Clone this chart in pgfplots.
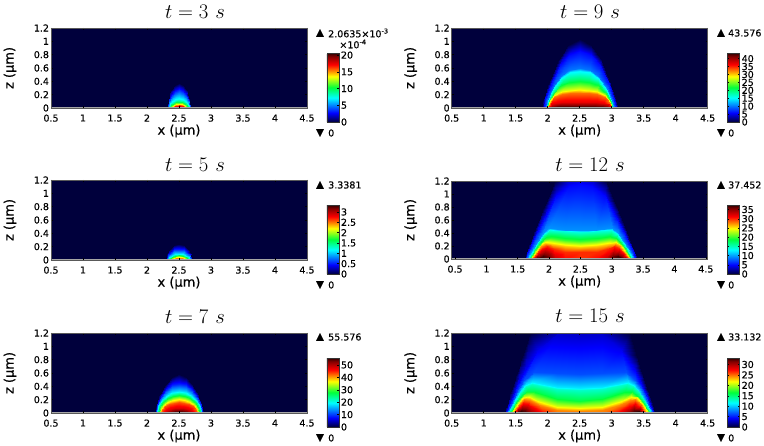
\documentclass[border=0pt]{standalone}
\usepackage[no-math]{fontspec}
\setmainfont{DejaVu Sans}[FakeBold=0.35]
\usepackage{pgfplots}
\pgfplotsset{compat=1.18}
\definecolor{bgnavy}{RGB}{0,0,60}
\pgfplotsset{
  colormap={comsol}{rgb255(0pt)=(0,0,60) rgb255(13pt)=(0,0,255) rgb255(35pt)=(0,255,255) rgb255(50pt)=(0,255,60) rgb255(66pt)=(255,255,0) rgb255(83pt)=(255,0,0) rgb255(95pt)=(130,0,0) rgb255(100pt)=(45,0,0)},
  panel/.style={
    scale only axis, width=256pt, height=80pt, anchor=north west,
    xmin=0.5, xmax=4.5, ymin=0, ymax=1.2,
    xtick={0.5,1,...,4.5}, ytick={0,0.2,...,1.2},
    xticklabels={0.5,1,1.5,2,2.5,3,3.5,4,4.5},
    yticklabels={0,0.2,0.4,0.6,0.8,1,1.2},
    axis on top, tick align=inside, major tick length=2pt,
    tick style={black, line width=0.5pt}, axis line style={draw=black!65, line width=0.8pt},
    tick label style={font=\fontsize{9.5}{10}\selectfont},
    xticklabel style={yshift=-3pt}, yticklabel style={xshift=1.5pt},
    xlabel={x (µm)}, ylabel={z (µm)},
    every axis x label/.style={at={(axis description cs:0.5,0)},anchor=center,yshift=-23pt,font=\fontsize{13}{14}\selectfont},
    every axis y label/.style={at={(axis description cs:0,0.5)},anchor=center,xshift=-41pt,rotate=90,font=\fontsize{13}{14}\selectfont},
    axis background/.style={fill=bgnavy},
    colormap name=comsol, point meta min=0,
    colorbar,
  },
  cb/.style={colorbar style={at={(1.078,0.6875)},anchor=north west,width=12pt,height=69pt,
    ytick={#1}, yticklabel pos=right, major tick length=1.5pt, tick align=inside,
    tick style={black,line width=0.4pt}, axis line style={draw=black!80,line width=0.6pt},
    tick label style={font=\fontsize{9.5}{9}\selectfont},
    /pgf/number format/assume math mode=true, /pgf/number format/fixed,
    yticklabel style={xshift=-1.5pt}}},
  heat/.style={surf, shader=interp, point meta=explicit, mesh/cols=#1},
}
\newcommand{\ttl}[1]{{\fontsize{21.5}{24}\selectfont $t=#1\ s$}}
\newcommand{\fs}{\fontsize{9.5}{10}\selectfont}
\newcommand{\tri}[1]{{\fontsize{10}{10}\selectfont #1}}
\newcommand{\bline}{\draw[black!35,line width=1.4pt] (rel axis cs:0,0)--(rel axis cs:1,0);}
\begin{document}
\begin{tikzpicture}
\path[use as bounding box] (0pt,0pt) rectangle (764pt,446pt);

% ---------- t = 3 s
\begin{axis}[panel, at={(51pt,418pt)}, point meta max=20.635, cb={0,5,10,15,20}]
\addplot[heat=9] coordinates {
(2.325,0)[0] (2.342,.15)[0] (2.378,.27)[0] (2.43,.35)[0] (2.5,.38)[0] (2.57,.35)[0] (2.622,.27)[0] (2.658,.15)[0] (2.675,0)[0]
(2.335,0)[4] (2.351,.11)[4] (2.384,.178)[4] (2.434,.23)[4] (2.5,.25)[4] (2.566,.23)[4] (2.616,.178)[4] (2.649,.11)[4] (2.665,0)[4]
(2.35,0)[7.5] (2.365,.057)[7.5] (2.395,.092)[7.5] (2.44,.12)[7.5] (2.5,.13)[7.5] (2.56,.12)[7.5] (2.605,.092)[7.5] (2.635,.057)[7.5] (2.65,0)[7.5]
(2.365,0)[10] (2.378,.042)[10] (2.405,.067)[10] (2.446,.087)[10] (2.5,.095)[10] (2.554,.087)[10] (2.595,.067)[10] (2.622,.042)[10] (2.635,0)[10]
(2.39,0)[13.5] (2.401,.029)[13.5] (2.423,.046)[13.5] (2.456,.06)[13.5] (2.5,.065)[13.5] (2.544,.06)[13.5] (2.577,.046)[13.5] (2.599,.029)[13.5] (2.61,0)[13.5]
(2.42,0)[17] (2.428,.018)[17] (2.444,.028)[17] (2.468,.037)[17] (2.5,.04)[17] (2.532,.037)[17] (2.556,.028)[17] (2.572,.018)[17] (2.58,0)[17]
(2.46,0)[20.6] (2.464,.004)[20.6] (2.472,.006)[20.6] (2.484,.007)[20.6] (2.5,.008)[20.6] (2.516,.007)[20.6] (2.528,.006)[20.6] (2.536,.004)[20.6] (2.54,0)[20.6]
};
\bline
\end{axis}

% ---------- t = 5 s
\begin{axis}[panel, at={(51pt,266pt)}, point meta max=3.3381, cb={0,0.5,1,1.5,2,2.5,3}]
\addplot[heat=9] coordinates {
(2.3,0)[0] (2.32,.105)[0] (2.36,.17)[0] (2.42,.22)[0] (2.5,.24)[0] (2.58,.22)[0] (2.64,.17)[0] (2.68,.105)[0] (2.7,0)[0]
(2.315,0)[.6] (2.333,.068)[.6] (2.37,.11)[.6] (2.426,.143)[.6] (2.5,.155)[.6] (2.574,.143)[.6] (2.63,.11)[.6] (2.667,.068)[.6] (2.685,0)[.6]
(2.335,0)[1.15] (2.351,.04)[1.15] (2.384,.064)[1.15] (2.434,.083)[1.15] (2.5,.09)[1.15] (2.566,.083)[1.15] (2.616,.064)[1.15] (2.649,.04)[1.15] (2.665,0)[1.15]
(2.355,0)[1.65] (2.37,.03)[1.65] (2.398,.048)[1.65] (2.442,.063)[1.65] (2.5,.068)[1.65] (2.558,.063)[1.65] (2.602,.048)[1.65] (2.63,.03)[1.65] (2.645,0)[1.65]
(2.385,0)[2.2] (2.396,.018)[2.2] (2.42,.03)[2.2] (2.454,.039)[2.2] (2.5,.042)[2.2] (2.546,.039)[2.2] (2.58,.03)[2.2] (2.604,.018)[2.2] (2.615,0)[2.2]
(2.42,0)[2.75] (2.428,.01)[2.75] (2.444,.016)[2.75] (2.468,.02)[2.75] (2.5,.022)[2.75] (2.532,.02)[2.75] (2.556,.016)[2.75] (2.572,.01)[2.75] (2.58,0)[2.75]
(2.47,0)[3.34] (2.473,.002)[3.34] (2.479,.003)[3.34] (2.488,.004)[3.34] (2.5,.004)[3.34] (2.512,.004)[3.34] (2.521,.003)[3.34] (2.527,.002)[3.34] (2.53,0)[3.34]
};
\bline
\end{axis}

% ---------- t = 7 s
\begin{axis}[panel, at={(51pt,113pt)}, point meta max=55.576, cb={0,10,20,30,40,50}]
\addplot[heat=11] coordinates {
(2.125,0)[0] (2.144,.116)[0] (2.2,.278)[0] (2.294,.441)[0] (2.387,.539)[0] (2.5,.58)[0] (2.613,.539)[0] (2.706,.441)[0] (2.8,.278)[0] (2.856,.116)[0] (2.875,0)[0]
(2.14,0)[9] (2.158,.114)[9] (2.212,.238)[9] (2.302,.352)[9] (2.392,.414)[9] (2.5,.44)[9] (2.608,.414)[9] (2.698,.352)[9] (2.788,.238)[9] (2.842,.114)[9] (2.86,0)[9]
(2.16,0)[18] (2.177,.101)[18] (2.228,.195)[18] (2.313,.271)[18] (2.398,.31)[18] (2.5,.325)[18] (2.602,.31)[18] (2.687,.271)[18] (2.772,.195)[18] (2.823,.101)[18] (2.84,0)[18]
(2.175,0)[25] (2.191,.087)[25] (2.24,.168)[25] (2.321,.234)[25] (2.402,.267)[25] (2.5,.28)[25] (2.598,.267)[25] (2.679,.234)[25] (2.76,.168)[25] (2.809,.087)[25] (2.825,0)[25]
(2.2,0)[34] (2.215,.068)[34] (2.26,.132)[34] (2.335,.184)[34] (2.41,.21)[34] (2.5,.22)[34] (2.59,.21)[34] (2.665,.184)[34] (2.74,.132)[34] (2.785,.068)[34] (2.8,0)[34]
(2.225,0)[43] (2.239,.051)[43] (2.28,.099)[43] (2.349,.138)[43] (2.417,.157)[43] (2.5,.165)[43] (2.583,.157)[43] (2.651,.138)[43] (2.72,.099)[43] (2.761,.051)[43] (2.775,0)[43]
(2.28,0)[48] (2.291,.025)[48] (2.324,.048)[48] (2.379,.067)[48] (2.434,.076)[48] (2.5,.08)[48] (2.566,.076)[48] (2.621,.067)[48] (2.676,.048)[48] (2.709,.025)[48] (2.72,0)[48]
(2.38,0)[55.5] (2.386,.004)[55.5] (2.404,.007)[55.5] (2.434,.01)[55.5] (2.464,.011)[55.5] (2.5,.012)[55.5] (2.536,.011)[55.5] (2.566,.01)[55.5] (2.596,.007)[55.5] (2.614,.004)[55.5] (2.62,0)[55.5]
};
\bline
\end{axis}

% ---------- t = 9 s
\begin{axis}[panel, at={(451.7pt,418pt)}, point meta max=43.576, cb={0,5,...,40}]
\addplot[heat=11] coordinates {
(1.9,0)[0] (1.93,.118)[0] (2.02,.39)[0] (2.17,.74)[0] (2.32,.95)[0] (2.5,1.03)[0] (2.68,.95)[0] (2.83,.74)[0] (2.98,.39)[0] (3.07,.118)[0] (3.1,0)[0]
(1.935,0)[6] (1.964,.128)[6] (2.05,.357)[6] (2.19,.638)[6] (2.33,.79)[6] (2.5,.85)[6] (2.67,.79)[6] (2.81,.638)[6] (2.95,.357)[6] (3.036,.128)[6] (3.065,0)[6]
(1.97,0)[10] (1.996,.116)[10] (2.075,.3)[10] (2.208,.484)[10] (2.34,.571)[10] (2.5,.6)[10] (2.66,.571)[10] (2.792,.484)[10] (2.925,.3)[10] (3.004,.116)[10] (3.03,0)[10]
(1.985,0)[15] (2.011,.11)[15] (2.085,.285)[15] (2.214,.452)[15] (2.343,.533)[15] (2.5,.56)[15] (2.657,.533)[15] (2.786,.452)[15] (2.915,.285)[15] (2.989,.11)[15] (3.015,0)[15]
(1.99,0)[20] (2.015,.106)[20] (2.092,.246)[20] (2.219,.378)[20] (2.347,.427)[20] (2.5,.44)[20] (2.653,.427)[20] (2.781,.378)[20] (2.908,.246)[20] (2.985,.106)[20] (3.01,0)[20]
(2,0)[28] (2.025,.092)[28] (2.1,.196)[28] (2.225,.26)[28] (2.35,.277)[28] (2.5,.28)[28] (2.65,.277)[28] (2.775,.26)[28] (2.9,.196)[28] (2.975,.092)[28] (3,0)[28]
(2.005,0)[33] (2.03,.081)[33] (2.104,.167)[33] (2.228,.214)[33] (2.351,.225)[33] (2.5,.225)[33] (2.649,.225)[33] (2.772,.214)[33] (2.896,.167)[33] (2.97,.081)[33] (2.995,0)[33]
(2.02,0)[37] (2.044,.054)[37] (2.116,.081)[37] (2.236,.09)[37] (2.356,.09)[37] (2.5,.09)[37] (2.644,.09)[37] (2.764,.09)[37] (2.884,.081)[37] (2.956,.054)[37] (2.98,0)[37]
(2.08,0)[43.5] (2.101,.006)[43.5] (2.164,.012)[43.5] (2.269,.012)[43.5] (2.374,.012)[43.5] (2.5,.012)[43.5] (2.626,.012)[43.5] (2.731,.012)[43.5] (2.836,.012)[43.5] (2.899,.006)[43.5] (2.92,0)[43.5]
};
\bline
\end{axis}

% ---------- t = 12 s
\begin{axis}[panel, at={(451.7pt,265pt)}, height=78pt, xmin=0.447, xmax=4.53, point meta max=37.452, cb={0,5,...,35}, colorbar style={at={(1.078,0.6923)}}]
\addplot[heat=15] coordinates {
(1.6,0)[0] (1.627,.09)[0] (1.69,.25)[0] (1.78,.46)[0] (1.915,.8)[0] (2.095,1.2)[0] (2.302,1.2)[3.5] (2.5,1.2)[4.3] (2.698,1.2)[3.5] (2.905,1.2)[0] (3.085,.8)[0] (3.22,.46)[0] (3.31,.25)[0] (3.373,.09)[0] (3.4,0)[0]
(1.625,0)[5] (1.65,.09)[5] (1.71,.22)[5] (1.8,.41)[5] (1.93,.65)[5] (2.11,.97)[5] (2.31,1.12)[5] (2.5,1.15)[5] (2.69,1.12)[5] (2.89,.97)[5] (3.07,.65)[5] (3.2,.41)[5] (3.29,.22)[5] (3.35,.09)[5] (3.375,0)[5]
(1.65,0)[9.5] (1.7,.09)[9.5] (1.76,.19)[9.5] (1.82,.28)[9.5] (1.9,.4)[9.5] (2,.47)[9.5] (2.25,.45)[9.5] (2.5,.44)[9.5] (2.75,.45)[9.5] (3,.47)[9.5] (3.1,.4)[9.5] (3.18,.28)[9.5] (3.24,.19)[9.5] (3.3,.09)[9.5] (3.35,0)[9.5]
(1.67,0)[14] (1.72,.09)[14] (1.78,.18)[14] (1.84,.27)[14] (1.92,.39)[14] (2.01,.45)[14] (2.25,.43)[14] (2.5,.42)[14] (2.75,.43)[14] (2.99,.45)[14] (3.08,.39)[14] (3.16,.27)[14] (3.22,.18)[14] (3.28,.09)[14] (3.33,0)[14]
(1.69,0)[20] (1.74,.07)[20] (1.79,.15)[20] (1.85,.23)[20] (1.93,.31)[20] (2.03,.33)[20] (2.25,.29)[20] (2.5,.28)[20] (2.75,.29)[20] (2.97,.33)[20] (3.07,.31)[20] (3.15,.23)[20] (3.21,.15)[20] (3.26,.07)[20] (3.31,0)[20]
(1.71,0)[26] (1.76,.06)[26] (1.81,.13)[26] (1.87,.21)[26] (1.94,.25)[26] (2.04,.23)[26] (2.25,.2)[26] (2.5,.19)[26] (2.75,.2)[26] (2.96,.23)[26] (3.06,.25)[26] (3.13,.21)[26] (3.19,.13)[26] (3.24,.06)[26] (3.29,0)[26]
(1.73,0)[30] (1.77,.05)[30] (1.82,.1)[30] (1.88,.17)[30] (1.96,.2)[30] (2.08,.16)[30] (2.25,.115)[30] (2.5,.105)[30] (2.75,.115)[30] (2.92,.16)[30] (3.04,.2)[30] (3.12,.17)[30] (3.18,.1)[30] (3.23,.05)[30] (3.27,0)[30]
(1.76,0)[36] (1.8,.01)[37] (1.84,.02)[37] (1.9,.04)[37] (1.98,.04)[36] (2.1,.02)[33] (2.25,.005)[31] (2.5,.005)[30] (2.75,.005)[31] (2.9,.02)[33] (3.02,.04)[36] (3.1,.04)[37] (3.16,.02)[37] (3.2,.01)[37] (3.24,0)[36]
(1.76,0)[37] (1.8,0)[37] (1.84,0)[37] (1.9,0)[37] (1.98,0)[36] (2.1,0)[33] (2.25,0)[31] (2.5,0)[30] (2.75,0)[31] (2.9,0)[33] (3.02,0)[36] (3.1,0)[37] (3.16,0)[37] (3.2,0)[37] (3.24,0)[37]
};
\bline
\end{axis}

% ---------- t = 15 s
\begin{axis}[panel, at={(451.7pt,113pt)}, point meta max=33.132, cb={0,5,...,30}]
\addplot[heat=15] coordinates {
(1.32,0)[0] (1.36,.12)[0] (1.43,.33)[0] (1.52,.6)[0] (1.6,.84)[0] (1.72,1.2)[0] (2.15,1.2)[2.7] (2.5,1.2)[3] (2.85,1.2)[2.7] (3.28,1.2)[0] (3.4,.84)[0] (3.48,.6)[0] (3.57,.33)[0] (3.64,.12)[0] (3.68,0)[0]
(1.34,0)[4] (1.38,.09)[4] (1.45,.25)[4] (1.54,.45)[4] (1.64,.65)[4] (1.85,.95)[4] (2.15,1.18)[3.2] (2.5,1.2)[3] (2.85,1.18)[3.2] (3.15,.95)[4] (3.36,.65)[4] (3.46,.45)[4] (3.55,.25)[4] (3.62,.09)[4] (3.66,0)[4]
(1.36,0)[6.5] (1.4,.08)[6.5] (1.47,.22)[6.5] (1.55,.37)[6.5] (1.63,.5)[6.5] (1.78,.62)[6.5] (2.15,.6)[6.5] (2.5,.58)[6.5] (2.85,.6)[6.5] (3.22,.62)[6.5] (3.37,.5)[6.5] (3.45,.37)[6.5] (3.53,.22)[6.5] (3.6,.08)[6.5] (3.64,0)[6.5]
(1.38,0)[11] (1.42,.08)[11] (1.49,.2)[11] (1.57,.32)[11] (1.65,.42)[11] (1.75,.46)[11] (2.15,.39)[11] (2.5,.37)[11] (2.85,.39)[11] (3.25,.46)[11] (3.35,.42)[11] (3.43,.32)[11] (3.51,.2)[11] (3.58,.08)[11] (3.62,0)[11]
(1.39,0)[13] (1.43,.08)[13] (1.5,.19)[13] (1.58,.31)[13] (1.66,.4)[13] (1.76,.44)[13] (2.15,.36)[13] (2.5,.34)[13] (2.85,.36)[13] (3.24,.44)[13] (3.34,.4)[13] (3.42,.31)[13] (3.5,.19)[13] (3.57,.08)[13] (3.61,0)[13]
(1.41,0)[16] (1.45,.06)[16] (1.51,.17)[16] (1.59,.26)[16] (1.68,.33)[16] (1.8,.33)[16] (2.15,.22)[16] (2.5,.195)[16] (2.85,.22)[16] (3.2,.33)[16] (3.32,.33)[16] (3.41,.26)[16] (3.49,.17)[16] (3.55,.06)[16] (3.59,0)[16]
(1.43,0)[21] (1.47,.06)[21] (1.53,.15)[21] (1.61,.24)[21] (1.7,.25)[21] (1.84,.19)[21] (2.15,.1)[21] (2.5,.085)[21] (2.85,.1)[21] (3.16,.19)[21] (3.3,.25)[21] (3.39,.24)[21] (3.47,.15)[21] (3.53,.06)[21] (3.57,0)[21]
(1.45,0)[24.5] (1.49,.05)[24.5] (1.55,.13)[24.5] (1.63,.21)[24.5] (1.72,.2)[24.5] (1.88,.12)[24.5] (2.15,.045)[24.5] (2.5,.035)[24.5] (2.85,.045)[24.5] (3.12,.12)[24.5] (3.28,.2)[24.5] (3.37,.21)[24.5] (3.45,.13)[24.5] (3.51,.05)[24.5] (3.55,0)[24.5]
(1.5,0)[33] (1.53,.015)[33] (1.58,.03)[33] (1.65,.04)[32] (1.74,.03)[30] (1.92,.012)[27] (2.15,0)[25] (2.5,0)[24.5] (2.85,0)[25] (3.08,.012)[27] (3.26,.03)[30] (3.35,.04)[32] (3.42,.03)[33] (3.47,.015)[33] (3.5,0)[33]
(1.5,0)[33] (1.53,0)[33] (1.58,0)[33] (1.65,0)[33] (1.74,0)[31] (1.92,0)[27] (2.15,0)[25] (2.5,0)[24.5] (2.85,0)[25] (3.08,0)[27] (3.26,0)[31] (3.35,0)[33] (3.42,0)[33] (3.47,0)[33] (3.5,0)[33]
};
\bline
\end{axis}

% titles
\node at (195pt,434pt) {\ttl{3}};
\node at (195pt,281pt) {\ttl{5}};
\node at (195pt,129pt) {\ttl{7}};
\node at (590pt,434pt) {\ttl{9}};
\node at (590pt,281pt) {\ttl{12}};
\node at (590pt,130pt) {\ttl{15}};

% maxima and minima
\node at (320pt,413pt) {\tri{▲}};
\node[anchor=west,inner sep=0pt] at (328pt,413pt) {\fs 2.0635×10\textsuperscript{-3}};
\node at (353pt,402pt) {\fs ×10\textsuperscript{-4}};
\node at (320pt,313pt) {\tri{▼}};
\node[anchor=west,inner sep=0pt] at (328pt,313pt) {\fs 0};
\node at (320pt,261pt) {\tri{▲}};
\node[anchor=west,inner sep=0pt] at (328pt,261pt) {\fs 3.3381};
\node at (320pt,161pt) {\tri{▼}};
\node[anchor=west,inner sep=0pt] at (328pt,161pt) {\fs 0};
\node at (320pt,109pt) {\tri{▲}};
\node[anchor=west,inner sep=0pt] at (328pt,109pt) {\fs 55.576};
\node at (320pt,8pt) {\tri{▼}};
\node[anchor=west,inner sep=0pt] at (328pt,8pt) {\fs 0};
\node at (721pt,413pt) {\tri{▲}};
\node[anchor=west,inner sep=0pt] at (728pt,413pt) {\fs 43.576};
\node at (721pt,313pt) {\tri{▼}};
\node[anchor=west,inner sep=0pt] at (728pt,313pt) {\fs 0};
\node at (721pt,261pt) {\tri{▲}};
\node[anchor=west,inner sep=0pt] at (728pt,261pt) {\fs 37.452};
\node at (721pt,161pt) {\tri{▼}};
\node[anchor=west,inner sep=0pt] at (728pt,161pt) {\fs 0};
\node at (721pt,109pt) {\tri{▲}};
\node[anchor=west,inner sep=0pt] at (728pt,109pt) {\fs 33.132};
\node at (721pt,8pt) {\tri{▼}};
\node[anchor=west,inner sep=0pt] at (728pt,8pt) {\fs 0};
\end{tikzpicture}
\end{document}
